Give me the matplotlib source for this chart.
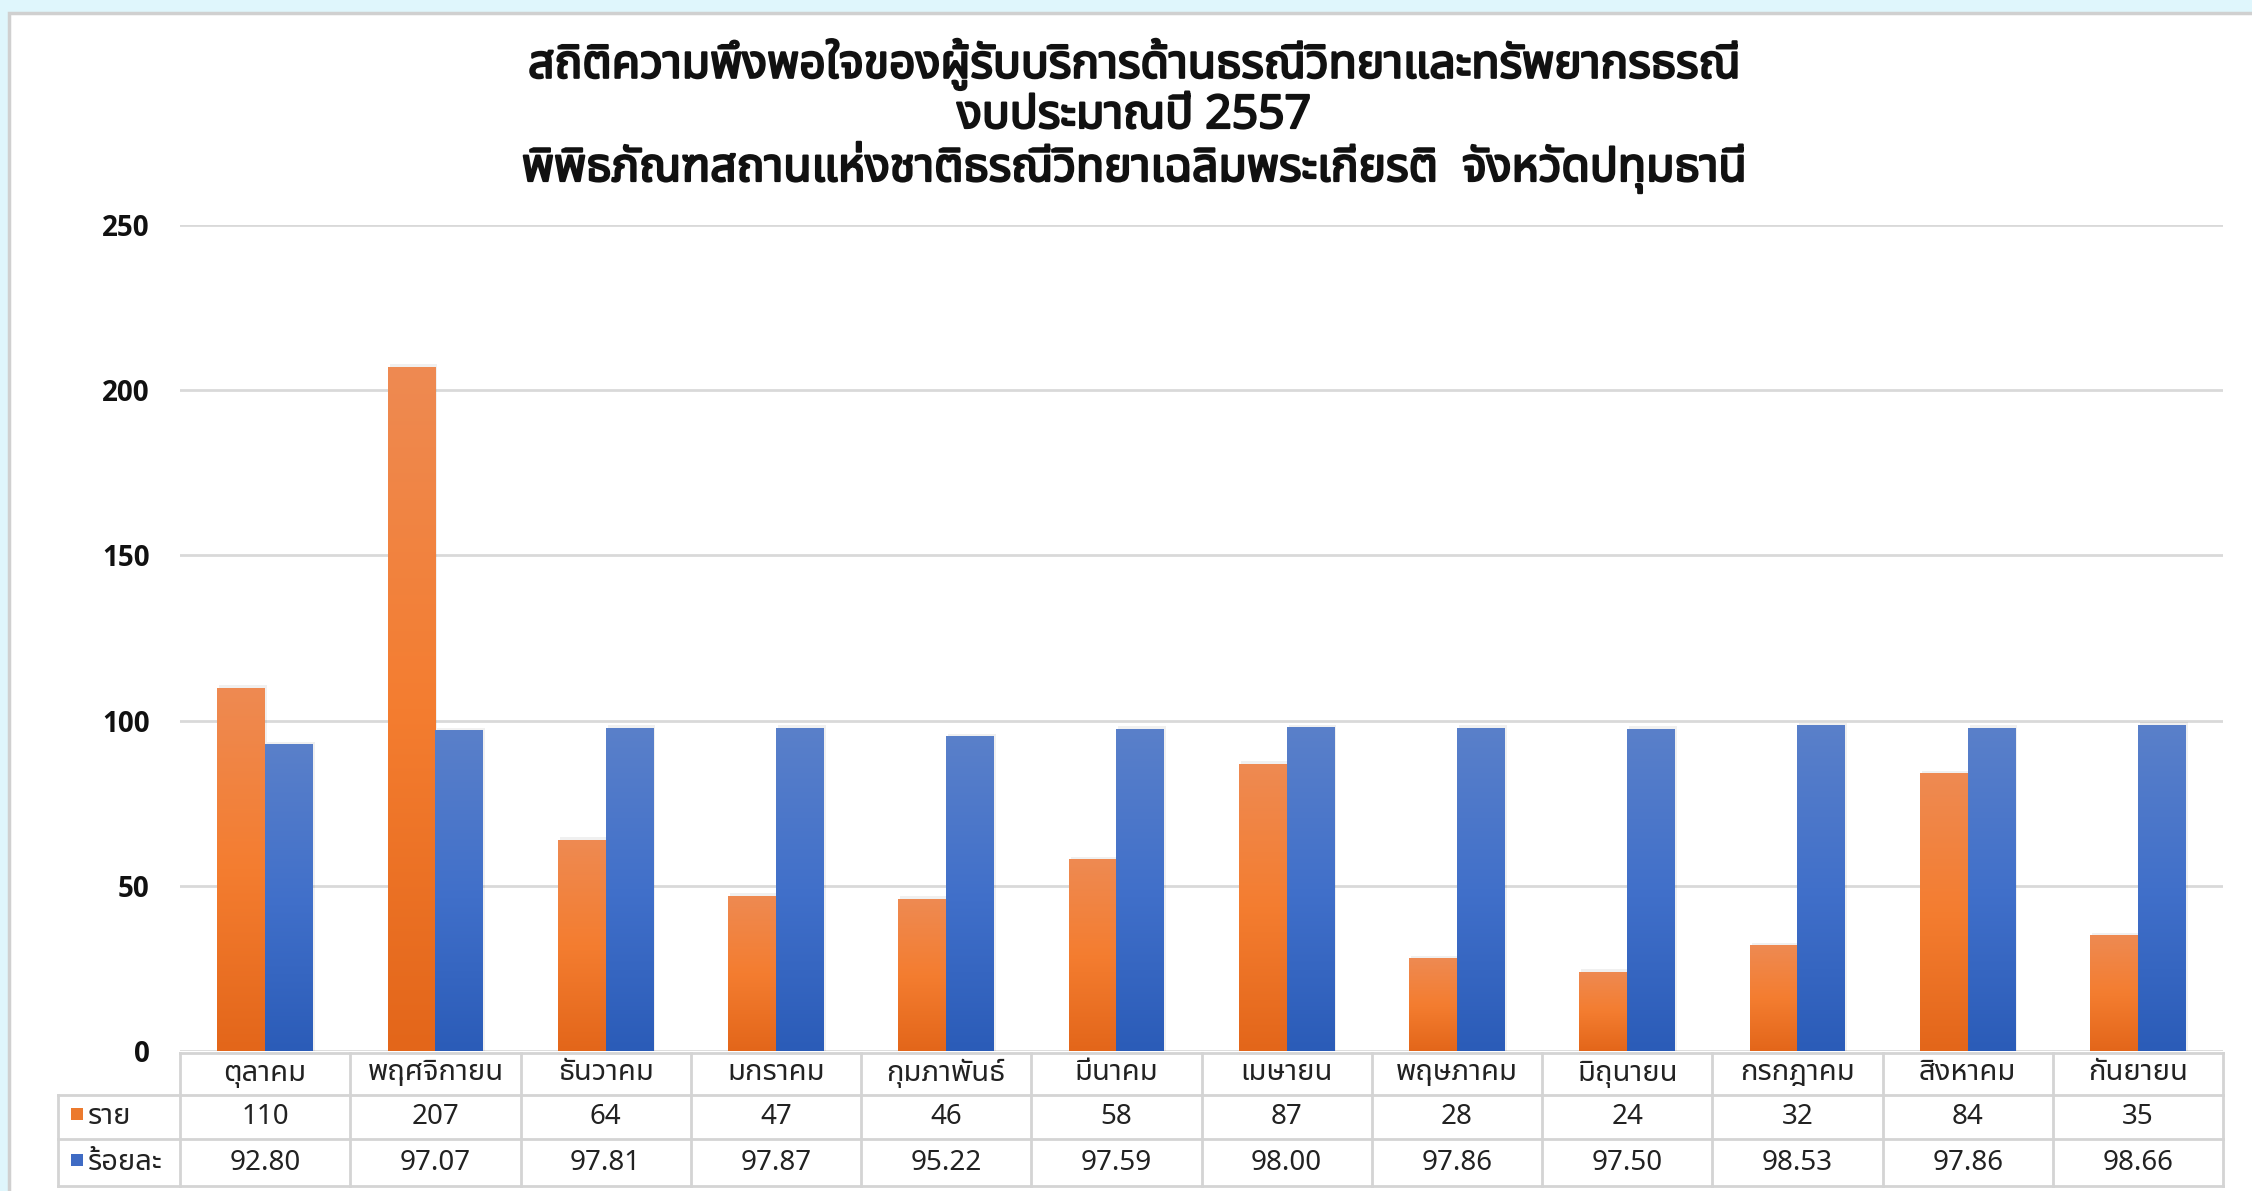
import numpy as np
import matplotlib
matplotlib.use("Agg")
import matplotlib.pyplot as plt
import matplotlib.patheffects as pe
from matplotlib import font_manager as fm
from matplotlib.ft2font import FT2Font
from matplotlib.patches import Rectangle
from matplotlib.lines import Line2D
from matplotlib.colors import LinearSegmentedColormap

# ---------------- data ----------------
months = ["ตุลาคม", "พฤศจิกายน", "ธันวาคม", "มกราคม", "กุมภาพันธ์", "มีนาคม",
          "เมษายน", "พฤษภาคม", "มิถุนายน", "กรกฎาคม", "สิงหาคม", "กันยายน"]
count_vals = [110, 207, 64, 47, 46, 58, 87, 28, 24, 32, 84, 35]
pct_vals = [92.80, 97.07, 97.81, 97.87, 95.22, 97.59, 98.00, 97.86, 97.50, 98.53, 97.86, 98.66]
series_names = ["ราย", "ร้อยละ"]
yticks = [0, 50, 100, 150, 200, 250]
title_lines = ["สถิติความพึงพอใจของผู้รับบริการด้านธรณีวิทยาและทรัพยากรธรณี",
               "งบประมาณปี 2557",
               "พิพิธภัณฑสถานแห่งชาติธรณีวิทยาเฉลิมพระเกียรติ  จังหวัดปทุมธานี"]

# ---------------- fonts ----------------
thai = []
for f in fm.fontManager.ttflist:
    try:
        ft = FT2Font(f.fname)
        if 0x0E01 in ft.get_charmap():
            thai.append(f.name)
    except Exception:
        pass
pref = ["Noto Sans Thai", "Noto Sans Thai UI", "Sarabun", "Loma", "Garuda", "Tlwg Typo",
        "Waree", "Norasi", "FreeSans"]
chosen = None
for p in pref:
    if p in thai:
        chosen = p
        break
if chosen is None and thai:
    chosen = thai[0]
fam = ([chosen] if chosen else []) + ["DejaVu Sans"]
plt.rcParams["font.family"] = fam

W, H = 2252, 1191
fig = plt.figure(figsize=(W / 100, H / 100), dpi=100)
fig.patch.set_facecolor("#DFF6FC")

def fx(x):
    return x / W

def fy(y):
    return 1 - y / H

# white panel
fig.add_artist(Rectangle((fx(9), fy(1300)), fx(2400), (1300 - 13) / H,
                         transform=fig.transFigure, facecolor="white",
                         edgecolor="#D0D0D0", lw=2.5, zorder=0))

# ---------------- main axes ----------------
x_left, x_right = 180, 2223
y_top, y_bot = 225, 1051
ax = fig.add_axes([fx(x_left), fy(y_bot), fx(x_right - x_left), (y_bot - y_top) / H])
ax.set_facecolor("none")
n = len(months)
xs = np.arange(n)
bw = 0.28
b1 = ax.bar(xs - bw / 2, count_vals, bw, color="#EC7A2E", zorder=3)
b2 = ax.bar(xs + bw / 2, pct_vals, bw, color="#4472C4", zorder=3)

grad = np.linspace(0, 1, 256).reshape(-1, 1)
cm_o = LinearSegmentedColormap.from_list("o", ["#E3661A", "#F47D30", "#EE8A52"])
cm_b = LinearSegmentedColormap.from_list("b", ["#2B5CB8", "#4170CA", "#5A80C9"])
for bars, cm in ((b1, cm_o), (b2, cm_b)):
    for p in bars:
        x0, w, h = p.get_x(), p.get_width(), p.get_height()
        ax.add_patch(Rectangle((x0 + 0.012, 0), w, h + 0.8, facecolor="#000000",
                               alpha=0.06, lw=0, zorder=2))
        im = ax.imshow(grad, extent=(x0, x0 + w, 0, h), origin="lower", cmap=cm,
                       aspect="auto", zorder=4)
        im.set_clip_path(p)

ax.set_xlim(-0.5, n - 0.5)
ax.set_ylim(0, 250)
ax.set_yticks(yticks)
ax.set_yticklabels([str(v) for v in yticks], fontsize=20, fontweight="bold",
                   family=["Open Sans", "DejaVu Sans"], color="#111111")
ax.tick_params(axis="y", length=0, pad=22)
ax.tick_params(axis="x", length=0, labelbottom=False)
for s in ax.spines.values():
    s.set_visible(False)
ax.grid(axis="y", color="#D9D9D9", lw=2, zorder=0)
ax.set_axisbelow(True)

# ---------------- data table ----------------
tab_left = 58
rows_y = [1053, 1095, 1139, 1186]
colw = (x_right - x_left) / n
lc = "#D4D4D4"
lw = 2
fig.add_artist(Line2D([fx(x_left), fx(x_right)], [fy(rows_y[0])] * 2, color=lc, lw=lw))
for yy in rows_y[1:]:
    fig.add_artist(Line2D([fx(tab_left), fx(x_right)], [fy(yy)] * 2, color=lc, lw=lw))
for i in range(n + 1):
    xx = x_left + i * colw
    fig.add_artist(Line2D([fx(xx)] * 2, [fy(rows_y[0]), fy(rows_y[3])], color=lc, lw=lw))
fig.add_artist(Line2D([fx(tab_left)] * 2, [fy(rows_y[1]), fy(rows_y[3])], color=lc, lw=lw))

tfs_t = 21
tfs_n = 20
for i in range(n):
    cx = x_left + (i + 0.5) * colw
    fig.text(fx(cx), fy((rows_y[0] + rows_y[1]) / 2 - 1), months[i], ha="center", va="center",
             fontsize=tfs_t, color="#222222")
    fig.text(fx(cx), fy((rows_y[1] + rows_y[2]) / 2), f"{count_vals[i]}", ha="center",
             va="center", fontsize=tfs_n, color="#222222")
    fig.text(fx(cx), fy((rows_y[2] + rows_y[3]) / 2), f"{pct_vals[i]:.2f}", ha="center",
             va="center", fontsize=tfs_n, color="#222222")

for r, (name, col) in enumerate(zip(series_names, ["#EC7A2E", "#3F6BC4"])):
    yc = (rows_y[r + 1] + rows_y[r + 2]) / 2
    fig.add_artist(Rectangle((fx(71), fy(yc + 3)), fx(12), 12 / H, transform=fig.transFigure,
                             facecolor=col, lw=0))
    fig.text(fx(88), fy(yc), name, ha="left", va="center", fontsize=tfs_t, color="#222222")

# ---------------- title ----------------
for t, yy in zip(title_lines, [64, 116, 167]):
    fig.text(fx(1134), fy(yy), t, ha="center", va="center", fontsize=33.3,
             fontweight="bold", color="#111111",
             path_effects=[pe.withStroke(linewidth=1.6, foreground="#111111")])

fig.savefig("out.png", dpi=100, facecolor=fig.get_facecolor())
